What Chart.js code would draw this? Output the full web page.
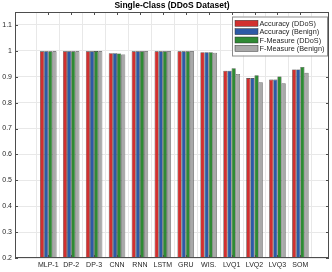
<!DOCTYPE html>
<html>
<head>
<meta charset="utf-8">
<script src="https://cdn.jsdelivr.net/npm/chart.js@4.4.1/dist/chart.umd.min.js"></script>
<style>
  html, body { margin: 0; padding: 0; background: #fff; }
  #wrap { width: 332px; height: 272px; }
</style>
</head>
<body>
<div id="wrap"><canvas id="chart" width="332" height="272"></canvas></div>
<script>
// data
const categories = ['MLP-1', 'DP-2', 'DP-3', 'CNN', 'RNN', 'LSTM', 'GRU', 'WIS.', 'LVQ1', 'LVQ2', 'LVQ3', 'SOM'];
const seriesNames = ['Accuracy (DDoS)', 'Accuracy (Benign)', 'F-Measure (DDoS)', 'F-Measure (Benign)'];
const accDdos    = [0.998, 0.998, 0.998, 0.991, 0.998, 0.998, 0.998, 0.995, 0.923, 0.895, 0.889, 0.928];
const accBenign  = [0.998, 0.998, 0.998, 0.991, 0.998, 0.998, 0.998, 0.995, 0.923, 0.895, 0.889, 0.928];
const fmDdos     = [0.998, 0.998, 0.999, 0.990, 0.998, 0.998, 0.998, 0.995, 0.933, 0.906, 0.901, 0.938];
const fmBenign   = [0.998, 0.998, 0.998, 0.986, 0.998, 0.998, 0.998, 0.993, 0.911, 0.879, 0.875, 0.915];
const yTicks = [0.2, 0.3, 0.4, 0.5, 0.6, 0.7, 0.8, 0.9, 1, 1.1];
const colors = ['#d1302f', '#2c5aa6', '#2f8a34', '#a9a9a9'];

const positions = categories.map((_, i) => i + 1);
const allSeries = [accDdos, accBenign, fmDdos, fmBenign];

const FONT = 'Liberation Sans, Arial, Helvetica, sans-serif';

// axis box, inward ticks, title and the legend drawn inside the plot
const decorations = {
    id: 'decorations',
    afterDraw(chart) {
        const { ctx, chartArea: a, scales } = chart;
        ctx.save();
        ctx.strokeStyle = '#4d4d4d';
        ctx.lineWidth = 1;
        ctx.strokeRect(Math.round(a.left) + 0.5, Math.round(a.top) + 0.5,
            Math.round(a.right - a.left) - 1, Math.round(a.bottom - a.top) - 1);

        ctx.beginPath();
        yTicks.forEach(v => {
            const y = Math.round(scales.y.getPixelForValue(v)) + 0.5;
            ctx.moveTo(a.left, y); ctx.lineTo(a.left + 3, y);
            ctx.moveTo(a.right, y); ctx.lineTo(a.right - 3, y);
        });
        positions.forEach(p => {
            const x = Math.round(scales.x.getPixelForValue(p)) + 0.5;
            ctx.moveTo(x, a.bottom); ctx.lineTo(x, a.bottom - 3);
            ctx.moveTo(x, a.top); ctx.lineTo(x, a.top + 3);
        });
        ctx.stroke();

        // title
        ctx.fillStyle = '#000';
        ctx.font = 'bold 8.5px ' + FONT;
        ctx.textAlign = 'center';
        ctx.textBaseline = 'middle';
        ctx.fillText('Single-Class (DDoS Dataset)', (a.left + a.right) / 2, 5.5);

        // legend
        const lx = 232, ly = 16.5, lw = 95, lh = 39;
        ctx.fillStyle = '#fff';
        ctx.fillRect(lx, ly, lw, lh);
        ctx.strokeStyle = '#8c8c8c';
        ctx.strokeRect(lx + 0.5, ly + 0.5, lw, lh);
        ctx.font = '7.3px ' + FONT;
        ctx.textAlign = 'left';
        chart.data.datasets.forEach((ds, i) => {
            const cy = 23.3 + i * 8.35;
            ctx.fillStyle = ds.backgroundColor;
            ctx.fillRect(235, cy - 3, 23, 6);
            ctx.strokeStyle = '#333';
            ctx.lineWidth = 0.5;
            ctx.strokeRect(235, cy - 3, 23, 6);
            ctx.fillStyle = '#262626';
            ctx.fillText(ds.label, 259.5, cy + 0.5);
        });
        ctx.restore();
    }
};

new Chart(document.getElementById('chart'), {
    type: 'bar',
    data: {
        labels: positions,
        datasets: allSeries.map((vals, i) => ({
            label: seriesNames[i],
            data: vals,
            backgroundColor: colors[i],
            borderColor: '#2a2a2a',
            borderWidth: 0.6,
            categoryPercentage: 0.72,
            barPercentage: 1
        }))
    },
    options: {
        responsive: false,
        animation: false,
        layout: { padding: { top: 12, right: 3, left: 0, bottom: 0 } },
        plugins: {
            legend: { display: false },
            title: { display: false },
            tooltip: { enabled: false }
        },
        scales: {
            x: {
                type: 'linear',
                min: 0.12,
                max: 12.68,
                afterBuildTicks: s => { s.ticks = positions.map(v => ({ value: v })); },
                afterFit: s => { s.height = 14; },
                grid: { color: '#e8e8e8', drawTicks: false },
                border: { display: false },
                ticks: {
                    padding: 3,
                    color: '#262626',
                    font: { family: FONT, size: 7 },
                    maxRotation: 0,
                    autoSkip: false,
                    callback: v => categories[v - 1]
                }
            },
            y: {
                min: 0.2,
                max: 1.15,
                afterBuildTicks: s => { s.ticks = yTicks.map(v => ({ value: v })); },
                afterFit: s => { s.width = 15; },
                grid: { color: '#e8e8e8', drawTicks: false },
                border: { display: false },
                ticks: {
                    padding: 3,
                    color: '#262626',
                    font: { family: FONT, size: 7 },
                    callback: v => String(Number(v.toFixed(1)))
                }
            }
        }
    },
    plugins: [decorations]
});
</script>
</body>
</html>
